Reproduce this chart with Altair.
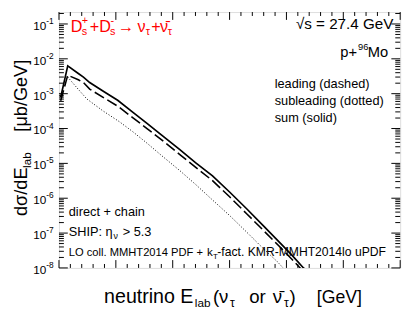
import altair as alt
import pandas as pd

# ---------------- data ----------------
# sum (solid)
E_sum = [1.5, 7.7, 17, 21.5, 27, 40, 51.6, 64.5, 77.4, 90, 106, 120, 135, 150, 165, 180, 195, 205, 215, 219]
sum_vals = [7.9e-4, 6.31e-3, 3.8e-3, 3.0e-3, 2.09e-3, 1.12e-3, 6.46e-4, 3.02e-4, 1.41e-4, 6.6e-5,
            2.51e-5, 1.05e-5, 4.4e-6, 1.51e-6, 5.0e-7, 1.58e-7, 5.0e-8, 2.29e-8, 1.0e-8, 7.9e-9]
# leading (dashed)
E_lead = [1.5, 7.7, 17, 21.5, 27, 40, 51.6, 64.5, 77.4, 90, 106, 120, 135, 150, 165, 180, 195, 205, 212, 216]
lead_vals = [6.3e-4, 3.39e-3, 2.51e-3, 2.09e-3, 1.35e-3, 7.4e-4, 4.4e-4, 2.09e-4, 1.0e-4, 4.8e-5,
             1.82e-5, 7.8e-6, 3.2e-6, 1.10e-6, 3.6e-7, 1.17e-7, 3.8e-8, 1.74e-8, 1.0e-8, 7.1e-9]
# subleading (dotted)
E_sub = [7.7, 15, 24.4, 38.7, 53, 64.5, 77.4, 90, 106, 120, 135, 150, 165, 180, 192, 200]
sub_vals = [3.0e-3, 1.58e-3, 7.1e-4, 3.2e-4, 1.58e-4, 8.3e-5, 3.8e-5, 1.70e-5, 6.3e-6, 2.51e-6,
            8.9e-7, 3.2e-7, 1.07e-7, 3.5e-8, 1.51e-8, 7.9e-9]

# tick labels
x_ticks = [0, 50, 100, 150, 200, 250, 300]
y_decades = [1e-8, 1e-7, 1e-6, 1e-5, 1e-4, 1e-3, 1e-2, 1e-1]
y_exps = ["-8", "-7", "-6", "-5", "-4", "-3", "-2", "-1"]

x_minor = [v for v in range(10, 300, 10) if v % 50 != 0]
y_minor = [d * 10.0 ** k for k in range(-8, 0) for d in range(2, 10) if d * 10.0 ** k <= 0.22]

W, H = 348, 261
FONT = "Liberation Sans"
NUBAR = "\u03bd\u0304"

xs = alt.Scale(domain=[0, 300], nice=False, zero=False)
ys = alt.Scale(type="log", domain=[1e-8, 0.22], nice=False)


def line_layer(E, vals, dash, width):
    df = pd.DataFrame({"E": E, "v": vals})
    props = dict(color="black", strokeWidth=width, clip=True)
    if dash:
        props["strokeDash"] = dash
    return alt.Chart(df).mark_line(**props).encode(
        x=alt.X("E:Q", scale=xs, axis=alt.Axis(values=x_ticks, tickSize=0, domain=False, grid=False,
                                                labelFontSize=14, labelFont=FONT, labelColor="black",
                                                labelPadding=5, labelFlush=False, title=None)),
        y=alt.Y("v:Q", scale=ys, axis=None),
    )


def txt(text, x, y, size, color="black", align="left", angle=0):
    return alt.Chart(pd.DataFrame({"t": [text]})).mark_text(
        align=align, baseline="alphabetic", fontSize=size, color=color, angle=angle, font=FONT
    ).encode(text="t:N", x=alt.value(x), y=alt.value(y))


def xrules(vals, y0, y1):
    return alt.Chart(pd.DataFrame({"v": vals})).mark_rule(color="black", strokeWidth=1).encode(
        x=alt.X("v:Q", scale=xs, axis=None), y=alt.value(y0), y2=alt.value(y1))


def yrules(vals, x0, x1):
    return alt.Chart(pd.DataFrame({"v": vals})).mark_rule(color="black", strokeWidth=1).encode(
        y=alt.Y("v:Q", scale=ys, axis=None), x=alt.value(x0), x2=alt.value(x1))


layers = [
    line_layer(E_sub, sub_vals, [1, 2], 1),
    line_layer(E_lead, lead_vals, [11, 4], 1.6),
    line_layer(E_sum, sum_vals, None, 1.7),
    # inward ticks
    xrules(x_ticks, H, H - 8), xrules(x_minor, H, H - 4),
    xrules(x_ticks, 0, 8), xrules(x_minor, 0, 4),
    yrules(y_decades, 0, 9), yrules(y_minor, 0, 5),
    yrules(y_decades, W, W - 9), yrules(y_minor, W, W - 5),
]

# y tick labels (10^n)
dec_df = pd.DataFrame({"v": y_decades, "b": ["10"] * len(y_decades), "e": y_exps})
layers.append(alt.Chart(dec_df).mark_text(align="right", baseline="middle", fontSize=12, font=FONT,
                                          color="black", dy=2).encode(
    y=alt.Y("v:Q", scale=ys, axis=None), x=alt.value(-13), text="b:N"))
layers.append(alt.Chart(dec_df).mark_text(align="left", baseline="middle", fontSize=8.5, font=FONT,
                                          color="black", dy=-3).encode(
    y=alt.Y("v:Q", scale=ys, axis=None), x=alt.value(-13), text="e:N"))

RED = "#ff0000"
# red process label
layers += [
    txt("D", 12, 20, 16.5, RED), txt("s", 23.3, 23.5, 11, RED), txt("+", 23.3, 12, 11, RED),
    txt("+D", 31.5, 20, 16.5, RED),
    txt("s", 52, 23.5, 11, RED), txt("-", 52.5, 12, 11, RED),
    txt("\u2192", 60, 20, 16.5, RED), txt("\u03bd", 80, 20, 16.5, RED), txt("\u03c4", 88.5, 23.5, 11, RED),
    txt("+", 94, 20, 16.5, RED), txt(NUBAR, 103, 20, 16.5, RED), txt("\u03c4", 111, 23.5, 11, RED),
]
# right-hand annotations
layers += [
    txt("\u221as = 27.4 GeV", 341, 17, 15.5, align="right"),
    txt("p+", 287, 46, 15), txt("96", 305, 39, 9.5), txt("Mo", 315, 46, 15),
    txt("leading (dashed)", 220, 77, 13),
    txt("subleading (dotted)", 220, 95, 13),
    txt("sum (solid)", 220, 112, 13),
]
# lower-left annotations
layers += [
    txt("direct + chain", 10, 208, 13),
    txt("SHIP: \u03b7", 10, 228, 13), txt("\u03bd", 55.5, 231, 9), txt("> 5.3", 65, 228, 13),
    txt("LO coll. MMHT2014 PDF +", 10, 249, 11.4), txt("k", 151, 249, 11.8), txt("T", 157, 252, 8),
    txt("-fact. KMR-MMHT2014lo uPDF", 161.5, 249, 12.4),
]
# x axis title
layers += [
    txt("neutrino E", 46, 297, 20), txt("lab", 138.5, 301, 12),
    txt("(\u03bd", 157, 297, 19), txt("\u03c4", 174.5, 301, 12.5),
    txt("or", 194, 297, 19), txt(NUBAR, 218, 297, 19), txt("\u03c4", 229.5, 301, 12.5),
    txt(")", 235, 297, 19), txt("[GeV]", 263, 297, 18),
]
# y axis title (rotated)
layers += [
    txt("d\u03c3/dE", -33, 208, 18.5, angle=270),
    txt("lab", -29, 159, 12, angle=270),
    txt("[\u03bcb/GeV]", -33, 122, 18.5, angle=270),
]

chart = alt.layer(*layers).properties(
    width=W, height=H,
    autosize=alt.AutoSizeParams(type="none"),
    padding={"left": 52, "top": 1, "right": 9, "bottom": 51},
).configure_view(stroke="black", strokeWidth=1.5).configure(background="white")

chart.save("out.html", embed_options={"renderer": "svg", "actions": False})
